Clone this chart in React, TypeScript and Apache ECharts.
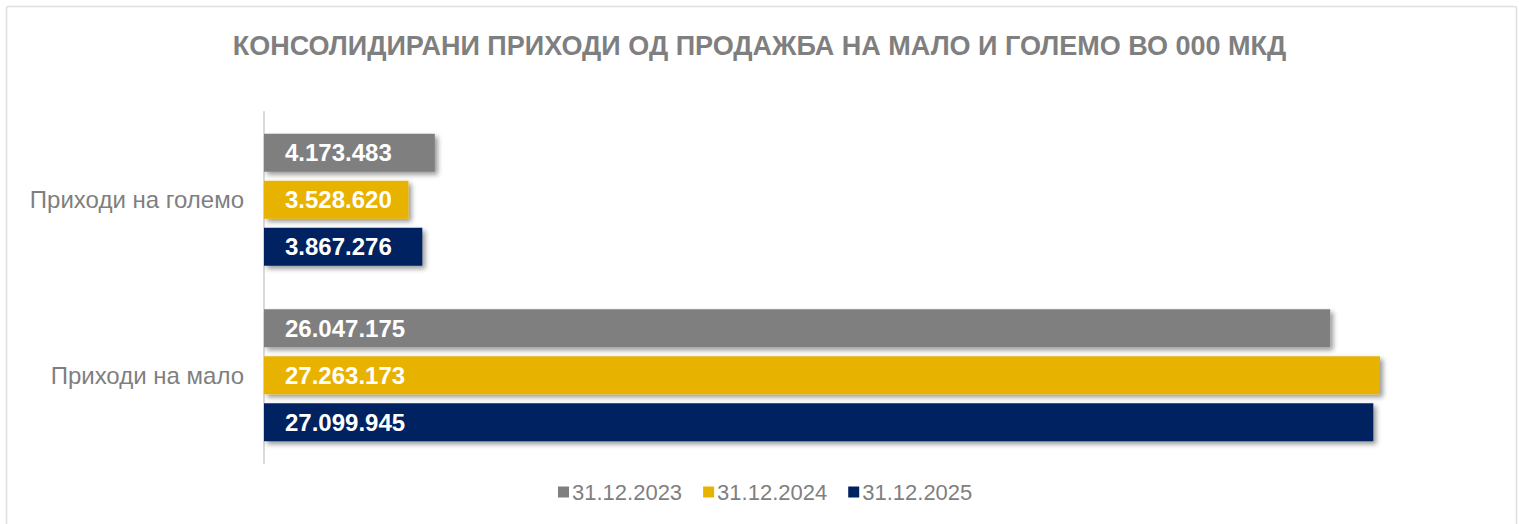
import React, { useEffect, useRef } from "react";
import * as echarts from "echarts";

const categories = ["Приходи на големо", "Приходи на мало"];
const seriesNames = ["31.12.2023", "31.12.2024", "31.12.2025"];
const values2023 = [4173483, 26047175];
const values2024 = [3528620, 27263173];
const values2025 = [3867276, 27099945];
const colors = ["#7F7F7F", "#E8B200", "#002060"];
const titleText = "КОНСОЛИДИРАНИ ПРИХОДИ ОД ПРОДАЖБА НА МАЛО И ГОЛЕМО ВО 000 МКД";

const fmt = (v: number) => String(Math.round(v)).replace(/\B(?=(\d{3})+(?!\d))/g, ".");

export default function App() {
  const ref = useRef<HTMLDivElement>(null);
  useEffect(() => {
    if (!ref.current) return;
    const chart = echarts.init(ref.current, undefined, { renderer: "svg" });
    const data = [values2023, values2024, values2025];
    chart.setOption({
      animation: false,
      backgroundColor: "#ffffff",
      textStyle: { fontFamily: "Liberation Sans, Arial, sans-serif" },
      graphic: [
        {
          type: "rect",
          shape: { x: 6.5, y: 6.5, width: 1510, height: 530, r: 2 },
          style: { fill: "none", stroke: "#E0E0E0", lineWidth: 1.5 },
          silent: true,
        },
      ],
      title: {
        text: titleText,
        left: "center",
        top: 27,
        textStyle: {
          fontFamily: "Liberation Sans, Arial, sans-serif",
          fontSize: 27,
          fontWeight: "bold",
          color: "#7F7F7F",
        },
      },
      legend: {
        bottom: 16,
        left: 553,
        itemWidth: 11,
        itemHeight: 11,
        itemGap: 21,
        icon: "rect",
        textStyle: {
          fontSize: 22,
          color: "#7F7F7F",
          padding: [0, 0, 0, -2],
          fontFamily: "Liberation Sans, Arial, sans-serif",
        },
        data: seriesNames,
      },
      grid: { left: 264, right: 27, top: 112, bottom: 61, containLabel: false },
      xAxis: {
        type: "value",
        min: 0,
        max: 30000000,
        show: false,
      },
      yAxis: {
        type: "category",
        data: categories,
        inverse: true,
        axisLine: { show: true, lineStyle: { color: "#D9D9D9", width: 2 } },
        axisTick: { show: false },
        axisLabel: {
          fontSize: 24,
          color: "#7F7F7F",
          margin: 20,
          fontFamily: "Liberation Sans, Arial, sans-serif",
        },
      },
      series: seriesNames.map((name, i) => ({
        name,
        type: "bar",
        data: data[i],
        barWidth: 38,
        barGap: "24%",
        itemStyle: {
          color: colors[i],
          shadowColor: "rgba(0,0,0,0.4)",
          shadowBlur: 5,
          shadowOffsetX: 3,
          shadowOffsetY: 3,
        },
        label: {
          show: true,
          position: "insideLeft",
          distance: 21,
          formatter: (p: any) => fmt(p.value),
          color: "#ffffff",
          fontWeight: "bold",
          fontSize: 24,
          fontFamily: "Liberation Sans, Arial, sans-serif",
        },
      })),
    });
    return () => chart.dispose();
  }, []);
  return (
    <div
      ref={ref}
      style={{ position: "fixed", left: 0, top: 0, width: 1519, height: 524 }}
    />
  );
}
